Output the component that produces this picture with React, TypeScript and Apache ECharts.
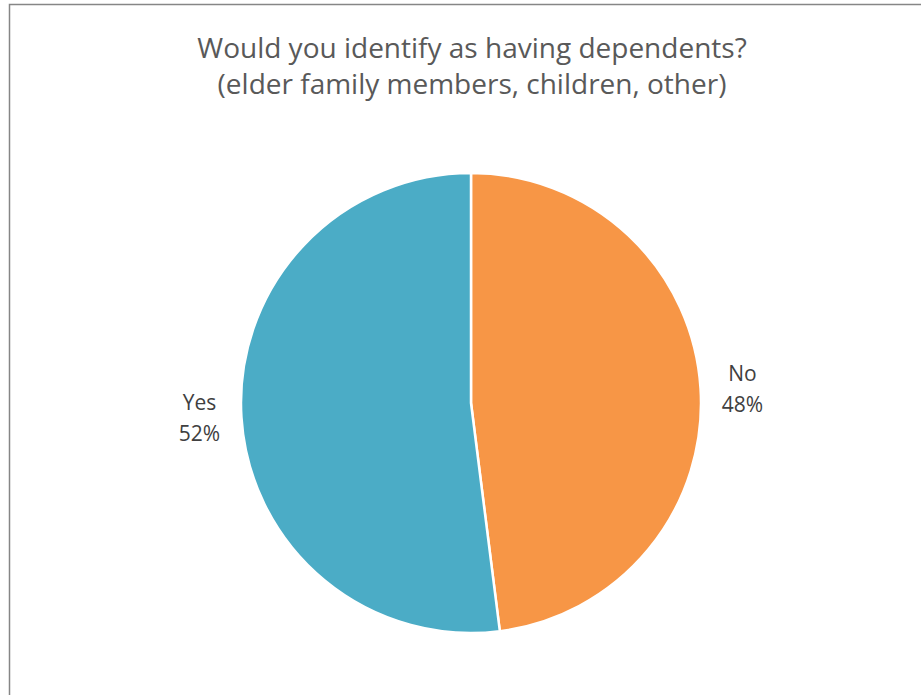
import React, { useEffect, useRef } from "react";
import * as echarts from "echarts";

const categories = ["No", "Yes"];
const values = [48, 52];
const colors = ["#F79646", "#4BACC6"];
const titleLines = ["Would you identify as having dependents?", "(elder family members, children, other)"];

export default function App() {
  const ref = useRef<HTMLDivElement>(null);
  useEffect(() => {
    document.body.style.margin = "0";
    const chart = echarts.init(ref.current!, null, { renderer: "svg" });
    chart.setOption({
      animation: false,
      backgroundColor: "#ffffff",
      title: {
        text: titleLines.join("\n"),
        left: 467,
        textAlign: "center",
        top: 24,
        textStyle: {
          fontFamily: "Open Sans",
          fontSize: 28,
          fontWeight: "normal",
          color: "#595959",
          lineHeight: 36,
        },
      },
      graphic: [
        {
          type: "rect",
          shape: { x: 9.5, y: 4.5, width: 1200, height: 1200 },
          style: { fill: "none", stroke: "#868686", lineWidth: 1.5 },
          silent: true,
        },
      ],
      series: [
        {
          type: "pie",
          center: [471, 403],
          radius: 230,
          startAngle: 90,
          clockwise: true,
          data: categories.map((c, i) => ({
            name: c,
            value: values[i],
            itemStyle: { color: colors[i] },
          })),
          itemStyle: { borderColor: "#ffffff", borderWidth: 2.5 },
          label: {
            show: true,
            position: "outside",
            formatter: "{a|{b}}\n{a|{d}%}",
            rich: {
              a: {
                fontFamily: "Open Sans",
                fontSize: 21,
                color: "#404040",
                width: 54,
                align: "center",
                lineHeight: 31,
              },
            },
          },
          labelLine: { show: false, length: 5, length2: 5 },
        },
      ],
    });
    return () => chart.dispose();
  }, []);
  return <div ref={ref} style={{ width: 921, height: 695 }} />;
}
